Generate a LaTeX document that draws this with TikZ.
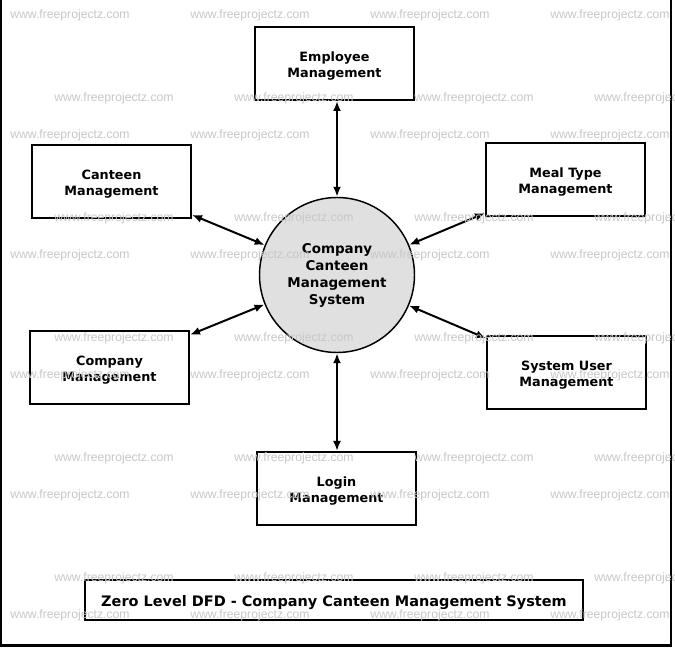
\documentclass[tikz,border=0pt]{standalone}
\usepackage{fontspec}
\setmainfont{DejaVu Sans}
\newfontfamily\wmfont{Liberation Sans}
\usetikzlibrary{arrows.meta}
\begin{document}
\begin{tikzpicture}[x=0.75pt,y=-0.75pt,
  box/.style={draw,line width=1.5pt,fill=white,minimum width=119.25pt,minimum height=54.75pt,
    inner sep=0pt,align=center,text height=21.5pt,text depth=0pt,
    font=\fontsize{9.6}{12}\selectfont\bfseries},
  proc/.style={circle,draw,line width=1.1pt,fill=black!12,minimum size=116.25pt,inner sep=0pt,
    align=center,font=\fontsize{10.1}{12.75}\selectfont\bfseries},
  titlebox/.style={draw,line width=1.5pt,fill=white,minimum width=373.5pt,minimum height=30pt,
    inner sep=0pt,text height=12pt,text depth=2.1pt,font=\fontsize{10.85}{13}\selectfont\bfseries},
  flow/.style={{Latex[length=7.5pt,width=6pt]}-{Latex[length=7.5pt,width=6pt]},line width=1.5pt},
  wm/.style={anchor=west,inner sep=0pt,text=black!22,font=\wmfont\fontsize{9.15}{10}\selectfont}]
\useasboundingbox (0,0) rectangle (675,648);
\clip (0,0) rectangle (675,648);
\fill[white] (0,0) rectangle (675,648);
\draw[line width=1.9pt] (1,0) -- (1,645.5) -- (671,645.5) -- (671,0);

\node[proc] (sys) at (337,275) {Company\\Canteen\\Management\\System};
\node[box] (emp) at (334.5,63.5) {Employee\\Management};
\node[box] (can) at (111.5,181.5) {Canteen\\Management};
\node[box] (meal) at (565.5,179.5) {Meal Type\\Management};
\node[box] (comp) at (109.5,367.5) {Company\\Management};
\node[box] (user) at (566.5,372.5) {System User\\Management};
\node[box] (login) at (336.5,488.5) {Login\\Management};
\node[titlebox] (title) at (334,600) {Zero Level DFD - Company Canteen Management System};

\draw[flow] (sys.north) -- (sys.north |- emp.south);
\draw[flow] (can) -- (sys);
\draw[flow] (meal) -- (sys);
\draw[flow] (comp) -- (sys);
\draw[flow] (user) -- (sys);
\draw[flow] (sys.south) -- (sys.south |- login.north);

\foreach \yy [count=\i] in {15,135,255,375,495,615}
  \foreach \xx [count=\j] in {10,190,370,550}
    \node[wm] (wa\i\j) at (\xx,\yy) {www.freeprojectz.com};
\foreach \yy [count=\i] in {98,218,338,458,578}
  \foreach \xx [count=\j] in {54,234,414,594}
    \node[wm] (wb\i\j) at (\xx,\yy) {www.freeprojectz.com};
\end{tikzpicture}
\end{document}
